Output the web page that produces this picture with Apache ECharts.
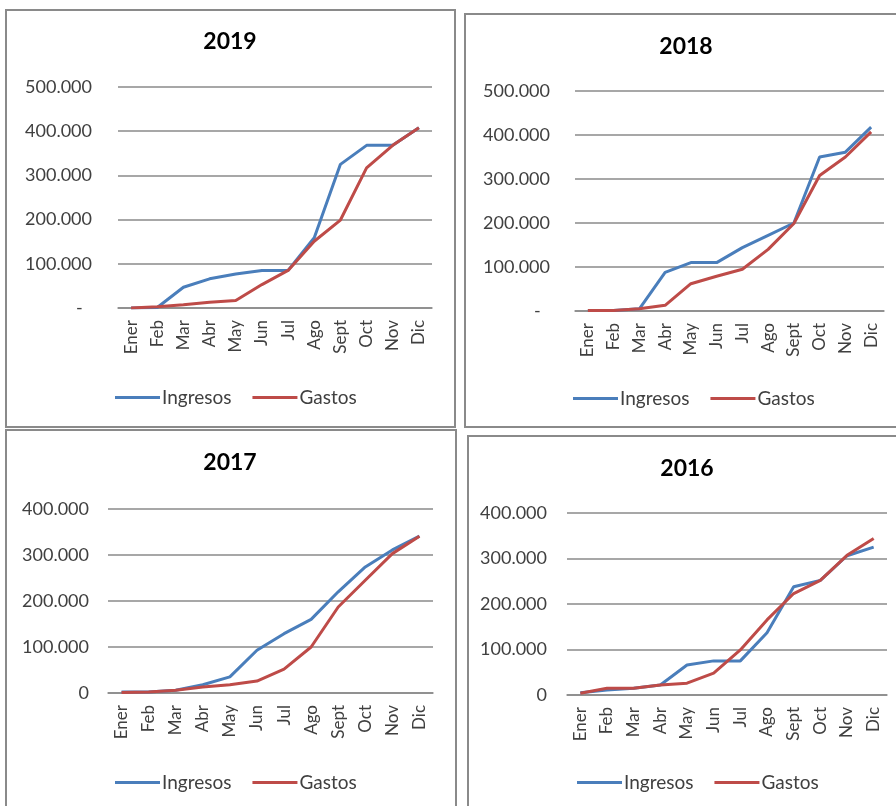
<!DOCTYPE html>
<html>
<head>
<meta charset="utf-8">
<title>Ingresos y Gastos 2016-2019</title>
<script src="https://cdn.jsdelivr.net/npm/echarts@6/dist/echarts.min.js"></script>
<style>
  html, body { margin: 0; padding: 0; background: #fff; }
  #main { width: 896px; height: 806px; }
</style>
</head>
<body>
<div id="main"></div>
<script>
// meses (eje x)
var meses = ['Ener', 'Feb', 'Mar', 'Abr', 'May', 'Jun', 'Jul', 'Ago', 'Sept', 'Oct', 'Nov', 'Dic'];

// valores acumulados
var ingresos2019 = [0, 1000, 47000, 66000, 77000, 85000, 85000, 159000, 325000, 368000, 368000, 408000];
var gastos2019 = [0, 3000, 7500, 13000, 17000, 53000, 85000, 151000, 199000, 317000, 368000, 408000];

var ingresos2018 = [1000, 1000, 5000, 88000, 110000, 110000, 144000, 172000, 200000, 350000, 361000, 418000];
var gastos2018 = [1000, 1000, 5000, 13000, 62000, 79000, 95000, 140000, 199000, 308000, 350000, 407000];

var ingresos2017 = [2000, 2000, 6000, 18000, 35000, 93000, 129000, 160000, 220000, 274000, 311000, 341000];
var gastos2017 = [1000, 2000, 6000, 13000, 18000, 26000, 52000, 100000, 187000, 245000, 303000, 341000];

var ingresos2016 = [5000, 11000, 15000, 22000, 66000, 75000, 75000, 137000, 238000, 252000, 306000, 325000];
var gastos2016 = [4000, 15000, 15000, 22000, 26000, 48000, 99000, 165000, 223000, 252000, 307000, 344000];

// maximo del eje y de cada panel
var maxY = [500000, 500000, 400000, 400000];

var font = 'Lato, "Open Sans", sans-serif';
var azul = '#4a7ebb';
var rojo = '#be4b48';
var gris = '#8a8a8a';

// paneles: 2019, 2018, 2017, 2016
var paneles = [
  { anio: '2019', ing: ingresos2019, gas: gastos2019, grid: { left: 118, top: 87, width: 314, height: 221 }, margen: 26, cero: '-  ', tituloX: 230, tituloY: 42, legX: 110, legY: 383, caja: [6, 10, 449, 417] },
  { anio: '2018', ing: ingresos2018, gas: gastos2018, grid: { left: 575, top: 91, width: 309, height: 220 }, margen: 25, cero: '-  ', tituloX: 686, tituloY: 47, legX: 568, legY: 384, caja: [465, 14, 440, 413] },
  { anio: '2017', ing: ingresos2017, gas: gastos2017, grid: { left: 108, top: 509, width: 325, height: 184 }, margen: 19, cero: '0', tituloX: 230, tituloY: 463, legX: 110, legY: 768, caja: [6, 430, 450, 400] },
  { anio: '2016', ing: ingresos2016, gas: gastos2016, grid: { left: 567, top: 513, width: 320, height: 182 }, margen: 20, cero: '0', tituloX: 687, tituloY: 469, legX: 572, legY: 768, caja: [468, 436, 440, 400] }
];

// 500000 -> "500.000"
function formato(v) {
  return String(v).replace(/\B(?=(\d{3})+(?!\d))/g, '.');
}

var chart = echarts.init(document.getElementById('main'), null, { renderer: 'canvas' });

var grids = [], xAxes = [], yAxes = [], series = [], legends = [], graphics = [];

for (var i = 0; i < paneles.length; i++) {
  var p = paneles[i];

  // marco del panel
  graphics.push({
    type: 'rect',
    shape: { x: p.caja[0], y: p.caja[1], width: p.caja[2], height: p.caja[3] },
    style: { fill: null, stroke: gris, lineWidth: 2 },
    z: 0
  });
  // titulo
  graphics.push({
    type: 'text',
    x: p.tituloX,
    y: p.tituloY,
    style: {
      text: p.anio,
      align: 'center',
      verticalAlign: 'middle',
      font: 'bold 23px ' + font,
      fill: '#000'
    },
    z: 10
  });

  grids.push(p.grid);

  xAxes.push({
    type: 'category',
    gridIndex: i,
    data: meses,
    boundaryGap: true,
    axisLine: { show: true, lineStyle: { color: gris, width: 1.5 } },
    axisTick: { show: false },
    axisLabel: {
      rotate: 90,
      interval: 0,
      margin: 12,
      color: '#404040',
      fontFamily: font,
      fontSize: 17
    }
  });

  (function (cero) {
    yAxes.push({
      type: 'value',
      gridIndex: i,
      min: 0,
      max: maxY[i],
      interval: 100000,
      axisLine: { show: false },
      axisTick: { show: false },
      splitLine: { lineStyle: { color: gris, width: 1.5 } },
      axisLabel: {
        margin: p.margen,
        color: '#404040',
        fontFamily: font,
        fontSize: 18,
        formatter: function (v) {
          return v === 0 ? cero : formato(v);
        }
      }
    });
  })(p.cero);

  series.push({
    name: 'Ingresos',
    type: 'line',
    xAxisIndex: i,
    yAxisIndex: i,
    data: p.ing,
    symbol: 'none',
    lineStyle: { color: azul, width: 3 },
    itemStyle: { color: azul },
    z: 3
  });
  series.push({
    name: 'Gastos',
    type: 'line',
    xAxisIndex: i,
    yAxisIndex: i,
    data: p.gas,
    symbol: 'none',
    lineStyle: { color: rojo, width: 3 },
    itemStyle: { color: rojo },
    z: 4
  });

  legends.push({
    data: ['Ingresos', 'Gastos'],
    left: p.legX,
    top: p.legY,
    icon: 'rect',
    itemWidth: 45,
    itemHeight: 3,
    itemGap: 21,
    selectedMode: false,
    textStyle: { color: '#404040', fontFamily: font, fontSize: 19, padding: [0, 0, 0, -3] }
  });
}

var option = {
  animation: false,
  backgroundColor: '#fff',
  grid: grids,
  xAxis: xAxes,
  yAxis: yAxes,
  legend: legends,
  series: series,
  graphic: graphics
};

chart.setOption(option);
</script>
</body>
</html>
